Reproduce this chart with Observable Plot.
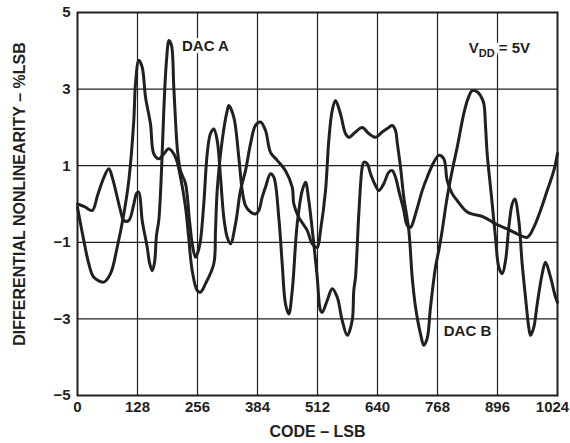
<!DOCTYPE html>
<html><head><meta charset="utf-8">
<script src="https://cdn.jsdelivr.net/npm/d3@7"></script>
<script src="https://cdn.jsdelivr.net/npm/@observablehq/plot@0.6"></script>
<style>body{margin:0;background:#fff}</style>
</head><body><div id="chart"></div>
<script>
const xTicks = [0, 128, 256, 384, 512, 640, 768, 896, 1024];
const yTicks = [-5, -3, -1, 1, 3, 5];

const dacACode = [0,14.9,31.4,42.7,55.5,66.8,74.7,84.7,91.7,98.8,109.4,119.5,125.9,130.8,138.0,148.7,153.6,159.4,164.3,168.5,173.4,179.2,184.1,189.9,195.2,200.5,205.4,209.1,213.3,219.7,230.4,238.9,245.3,251.7,258.1,262.4,269.4,276.7,283.7,290.8,298.0,305.1,312.1,319.4,326.4,337.1,347.7,358.4,369.1,379.7,390.4,401.1,411.7,426.0,443.7,458.1,461.5,472.1,490.0,500.7,511.4,518.4,529.1,536.1,543.4,550.4,561.1,571.7,578.8,593.1,607.4,621.4,635.7,650.0,664.1,671.4,678.4,682.0,689.1,696.1,706.8,714.0,721.1,731.7,738.8,746.0,753.1,763.7,770.8,778.0,788.7,799.3,810.0,824.1,833.1,842.0,851.2,859.7,866.8,870.4,874.0,881.1,884.7,891.7,898.8,906.0,913.1,920.1,927.4,932.9,941.4,948.6,955.7,962.7,966.4,973.4,980.7,991.4,998.4,1009.1,1019.7,1024];
const dacAValue = [0.0,-0.07,-0.17,0.22,0.67,0.92,0.67,0.18,-0.17,-0.43,-0.43,-0.04,0.27,0.31,-0.43,-1.13,-1.53,-1.74,-1.53,-0.82,-0.43,0.87,2.44,3.75,4.27,4.14,3.05,2.18,1.40,0.87,0.53,-0.43,-1.08,-1.39,-1.21,-0.95,0.0,1.31,1.84,1.96,1.66,0.70,-0.35,-0.87,-1.04,-0.52,0.35,0.87,1.57,2.05,2.14,1.92,1.35,1.14,0.87,0.44,0.0,-0.35,-0.69,-1.04,-1.13,-0.69,0.35,1.66,2.44,2.70,2.35,1.84,1.74,1.88,2.0,1.84,1.74,1.88,2.0,2.05,1.92,1.61,0.96,0.18,-0.69,-1.91,-2.69,-3.39,-3.69,-3.51,-2.69,-1.65,-1.21,-0.69,0.18,0.87,1.48,2.36,2.75,2.96,2.94,2.83,2.62,2.05,1.31,0.44,0.0,-0.87,-1.65,-1.82,-1.48,-0.61,0.0,0.13,-0.43,-1.56,-2.43,-3.22,-3.43,-3.22,-2.61,-1.82,-1.52,-1.91,-2.43,-2.57];

const dacBCode = [0,13.4,24.1,34.8,56.1,70.4,84.7,98.8,109.4,120.1,123.7,130.8,138.0,145.1,155.7,162.8,173.4,184.1,194.8,209.1,219.7,230.4,236.8,244.7,255.4,262.4,273.1,290.8,294.4,298.0,308.7,319.4,322.8,333.4,344.1,351.4,358.4,369.1,379.7,386.8,394.1,401.1,411.7,418.8,429.4,436.7,443.7,450.8,458.1,468.7,479.4,486.4,493.4,504.1,511.4,518.4,522.0,532.7,543.4,554.0,564.7,575.4,586.0,589.4,593.1,600.1,607.4,610.8,618.1,625.1,635.7,642.8,653.4,664.1,671.4,678.4,685.4,696.1,703.4,710.4,721.1,735.4,746.0,760.1,770.8,781.4,788.7,799.3,810.0,831.4,866.8,891.7,916.7,938.0,959.4,973.4,987.7,1002.0,1016.1,1024];
const dacBValue = [-0.09,-0.95,-1.56,-1.91,-2.04,-1.82,-1.13,-0.26,0.61,2.18,3.14,3.75,3.57,2.79,2.09,1.31,1.18,1.31,1.44,1.22,0.70,-0.08,-0.82,-1.74,-2.26,-2.30,-2.08,-1.56,-0.69,0.35,1.66,2.44,2.57,2.27,1.22,0.35,-0.04,-0.21,-0.26,-0.17,0.18,0.44,0.79,0.70,-0.35,-1.56,-2.61,-2.87,-2.26,-0.52,0.35,0.57,0.09,-1.04,-1.91,-2.78,-2.83,-2.52,-2.21,-2.43,-3.04,-3.43,-3.04,-2.26,-1.91,-0.26,0.96,1.09,1.05,0.79,0.48,0.35,0.53,0.83,0.87,0.70,0.35,-0.17,-0.56,-0.61,-0.26,0.35,0.70,1.09,1.27,1.18,0.61,0.27,0.09,-0.21,-0.34,-0.52,-0.65,-0.78,-0.87,-0.61,-0.17,0.35,0.87,1.32];

const xLabel = "CODE – LSB";
const yLabel = "DIFFERENTIAL NONLINEARITY – %LSB";
const notes = [
  {code: 273, value: 4.11, text: "DAC A", halo: 6},
  {code: 900, value: 4.06, text: "VDD = 5V", halo: 6},
  {code: 832, value: -3.33, text: "DAC B", halo: 12}
];

const dacA = dacACode.map((c, i) => ({code: c, value: dacAValue[i]}));
const dacB = dacBCode.map((c, i) => ({code: c, value: dacBValue[i]}));

const ink = "#231f20";
const font = "Arial, 'Liberation Sans', Helvetica, sans-serif";
const fmt = d => d < 0 ? "\u2212" + Math.abs(d) : String(d);
const tickStyle = {tickSize: 0, label: null, fontSize: 15, fontWeight: "bold", fill: ink, tickFormat: fmt};

const chart = Plot.plot({
  width: 570, height: 443,
  marginLeft: 77, marginRight: 13, marginTop: 12, marginBottom: 48,
  x: {domain: [0, 1024]},
  y: {domain: [-5, 5]},
  style: {fontFamily: font, fontSize: "15px", fontWeight: "bold", color: ink, background: "#fff"},
  marks: [
    Plot.gridX(xTicks.slice(1, -1), {stroke: ink, strokeOpacity: 1, strokeWidth: 1.2}),
    Plot.gridY(yTicks.slice(1, -1), {stroke: ink, strokeOpacity: 1, strokeWidth: 1.2}),
    Plot.text(notes, {x: "code", y: "value", text: "text", fill: ink, stroke: "#fff", strokeWidth: d => d.halo, fontSize: 15, fontWeight: "bold", textAnchor: "middle", lineAnchor: "middle"}),
    Plot.line(dacB, {x: "code", y: "value", curve: "catmull-rom", stroke: ink, strokeWidth: 3}),
    Plot.line(dacA, {x: "code", y: "value", curve: "catmull-rom", stroke: ink, strokeWidth: 3}),
    Plot.frame({stroke: ink, strokeWidth: 2}),
    Plot.axisX(xTicks.slice(0, -1), {...tickStyle, tickPadding: 6}),
    Plot.axisX(xTicks.slice(-1), {...tickStyle, tickPadding: 6, dx: -5}),
    Plot.axisY(yTicks, {...tickStyle, tickPadding: 7}),
    Plot.text([xLabel], {frameAnchor: "bottom", dy: 36, text: d => d, fontSize: 16, fontWeight: "bold", fill: ink, textAnchor: "middle", lineAnchor: "middle"}),
    Plot.text([yLabel], {frameAnchor: "left", dx: -58, dy: -10, rotate: -90, text: d => d, fontSize: 16, fontWeight: "bold", fill: ink, textAnchor: "middle", lineAnchor: "middle"})
  ]
});

document.getElementById("chart").appendChild(chart);

// subscript for V_DD
for (const t of chart.querySelectorAll("text")) {
  if (t.textContent === "VDD = 5V") {
    t.textContent = "";
    const ns = "http://www.w3.org/2000/svg";
    const a = document.createElementNS(ns, "tspan"); a.textContent = "V";
    const b = document.createElementNS(ns, "tspan"); b.textContent = "DD"; b.setAttribute("dy", "4"); b.setAttribute("font-size", "11");
    const c = document.createElementNS(ns, "tspan"); c.textContent = " = 5V"; c.setAttribute("dy", "-4");
    t.append(a, b, c);
  }
}
</script></body></html>
